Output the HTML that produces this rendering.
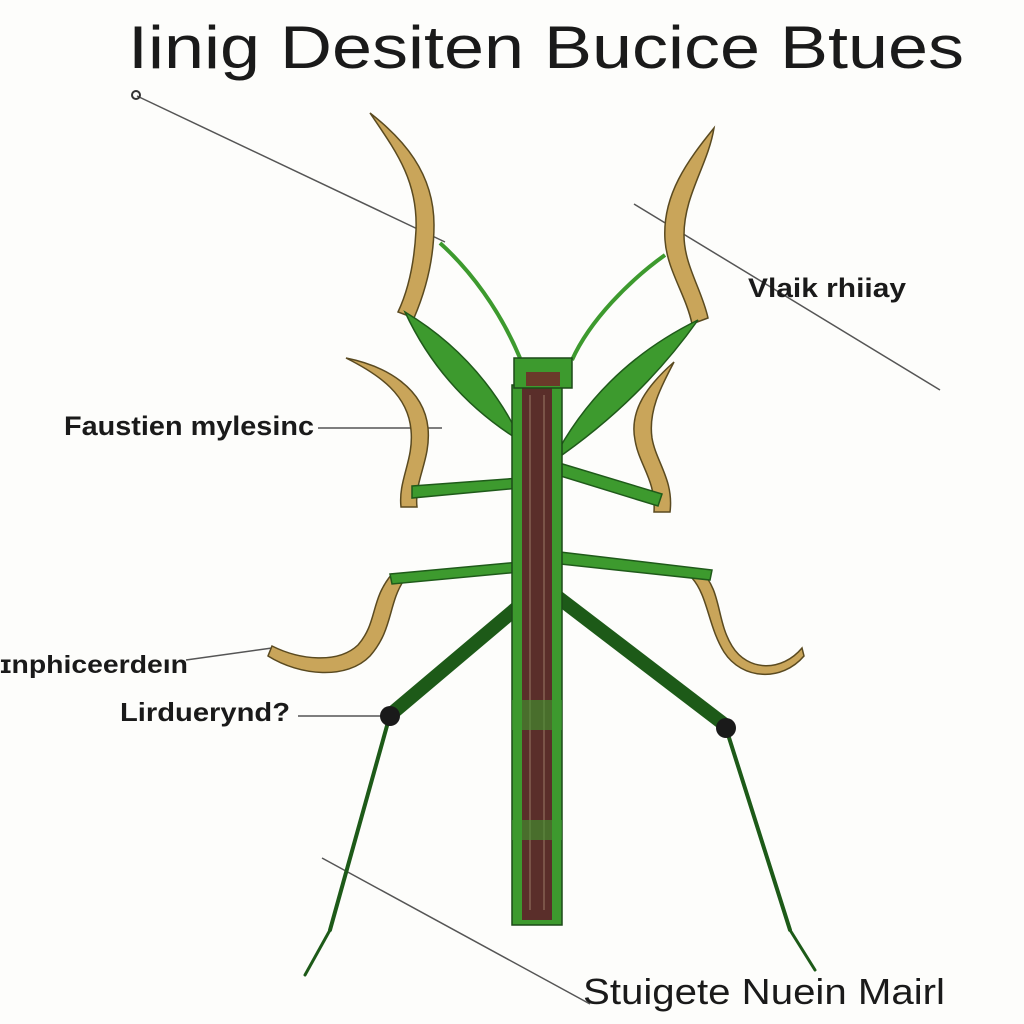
<!DOCTYPE html>
<html><head><meta charset="utf-8"><style>
html,body{margin:0;padding:0;background:#fdfdfb;}
svg{display:block}
text{font-family:"Liberation Sans",sans-serif;fill:#1a1a1a}
</style></head><body>
<svg width="1024" height="1024" viewBox="0 0 1024 1024" xmlns="http://www.w3.org/2000/svg">
<rect width="1024" height="1024" fill="#fdfdfb"/>
<text x="128" y="68" font-size="60" textLength="836" lengthAdjust="spacingAndGlyphs">Iinig Desiten Bucice Btues</text>

<g stroke="#555" stroke-width="1.5" fill="none">
<line x1="137" y1="96" x2="445" y2="242"/>
<line x1="634" y1="204" x2="940" y2="390"/>
<line x1="318" y1="428" x2="442" y2="428"/>
<line x1="186" y1="660" x2="272" y2="648"/>
<line x1="298" y1="716" x2="386" y2="716"/>
<line x1="322" y1="858" x2="590" y2="1004"/>
</g>
<circle cx="136" cy="95" r="4" fill="none" stroke="#333" stroke-width="2"/>

<g stroke="#5a4a20" stroke-width="1.5" fill="#c9a55a">
<path d="M370,113 C395,150 418,180 416,230 C414,270 406,295 398,312 L414,318 C426,290 434,260 434,225 C434,172 402,138 370,113 Z"/>
<path d="M714,128 C688,160 662,195 665,240 C667,270 686,295 692,324 L708,318 C702,290 684,265 684,235 C684,195 708,165 714,128 Z"/>
<path d="M346,358 C380,375 408,395 411,430 C414,460 398,480 401,507 L417,507 C414,480 431,460 428,428 C424,388 386,366 346,358 Z"/>
<path d="M674,362 C648,385 629,410 635,440 C639,465 656,480 654,512 L670,512 C674,480 656,462 652,438 C648,410 662,385 674,362 Z"/>
<path d="M392,574 C370,600 378,622 358,645 C338,664 300,660 272,646 L268,656 C300,676 347,680 370,656 C393,630 388,604 404,580 Z"/>
<path d="M700,570 C722,590 716,620 732,646 C748,672 782,672 802,648 L804,656 C782,682 742,680 724,652 C708,626 708,596 692,578 Z"/>
</g>

<g stroke="#1f5a1a" stroke-width="1.5" fill="#3d9a2e">
<path d="M405,312 Q482,358 522,442 Q443,394 405,312 Z"/>
<path d="M698,320 Q640,402 552,462 Q600,368 698,320 Z"/>
<path d="M412,486 L520,478 L520,488 L412,498 Z"/>
<path d="M556,462 L662,494 L658,506 L554,474 Z"/>
<path d="M390,574 L520,562 L520,572 L392,584 Z"/>
<path d="M560,552 L712,570 L710,580 L560,564 Z"/>
</g>
<g stroke="#3d9a2e" stroke-width="4" fill="none">
<path d="M440,243 C470,270 500,310 520,358"/>
<path d="M665,255 C630,280 590,320 572,360"/>
</g>
<g stroke="#1d5a18" fill="none" stroke-linecap="round">
<line x1="538" y1="590" x2="390" y2="715" stroke-width="14"/>
<line x1="555" y1="595" x2="725" y2="725" stroke-width="14"/>
<line x1="390" y1="715" x2="330" y2="930" stroke-width="4"/>
<line x1="330" y1="930" x2="305" y2="975" stroke-width="3"/>
<line x1="725" y1="725" x2="790" y2="930" stroke-width="4"/>
<line x1="790" y1="930" x2="815" y2="970" stroke-width="3"/>
</g>
<circle cx="390" cy="716" r="10" fill="#1a1a1a"/>
<circle cx="726" cy="728" r="10" fill="#1a1a1a"/>

<rect x="512" y="385" width="50" height="540" fill="#3d9a2e" stroke="#1d4a18" stroke-width="1.5"/>
<rect x="522" y="385" width="30" height="535" fill="#5a2e2a"/>
<g stroke="#b49a80" stroke-width="1" opacity="0.7">
<line x1="530" y1="395" x2="530" y2="910"/><line x1="544" y1="395" x2="544" y2="910"/>
</g>
<rect x="512" y="700" width="50" height="30" fill="#3d9a2e" opacity="0.6"/>
<rect x="512" y="820" width="50" height="20" fill="#3d9a2e" opacity="0.6"/>
<rect x="514" y="358" width="58" height="30" fill="#3d9a2e" stroke="#1d4a18" stroke-width="1.5"/>
<rect x="526" y="372" width="34" height="14" fill="#6a3a2a"/>

<g font-weight="bold">
<text x="748" y="297" font-size="27" textLength="158" lengthAdjust="spacingAndGlyphs">Vlaik rhiiay</text>
<text x="64" y="435" font-size="27" textLength="250" lengthAdjust="spacingAndGlyphs">Faustien mylesinc</text>
<text x="0" y="673" font-size="25" textLength="188" lengthAdjust="spacingAndGlyphs">ɪnphiceerdeın</text>
<text x="120" y="721" font-size="26" textLength="170" lengthAdjust="spacingAndGlyphs">Lirduerynd?</text>
</g>
<text x="583" y="1004" font-size="36" textLength="362" lengthAdjust="spacingAndGlyphs">Stuigete Nuein Mairl</text>
</svg>
</body></html>
